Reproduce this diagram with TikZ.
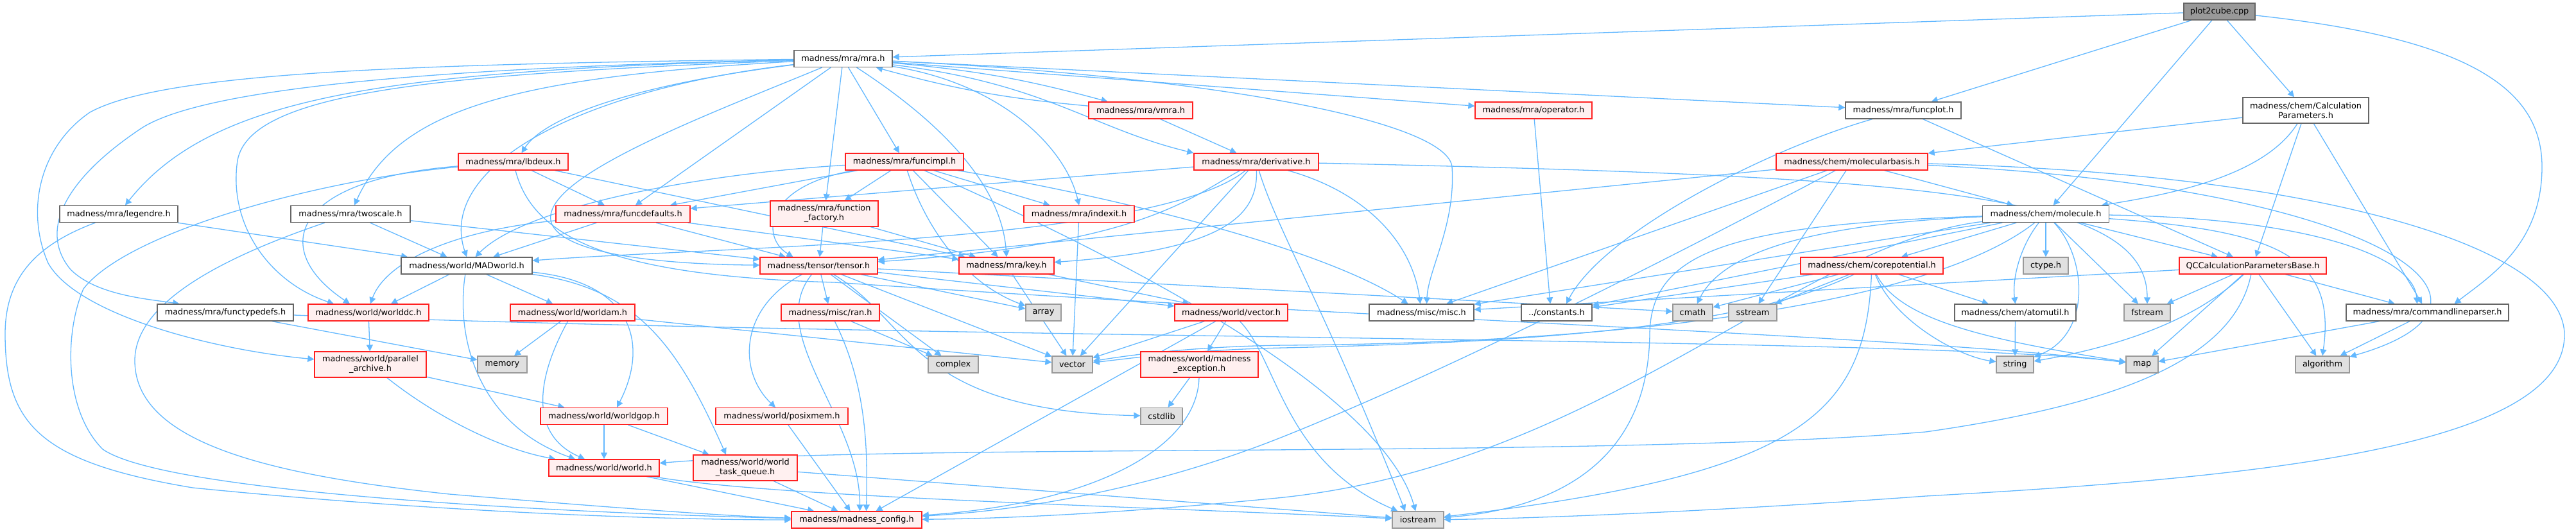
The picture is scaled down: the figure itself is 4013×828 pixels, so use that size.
\documentclass[tikz,border=0pt]{standalone}
\usepackage{fontspec}
\setmainfont{DejaVu Sans}
\usetikzlibrary{arrows.meta}
\definecolor{edgec}{HTML}{63B8FF}
\definecolor{redfill}{HTML}{FFF0F0}
\definecolor{redline}{HTML}{FF2020}
\definecolor{sysfill}{HTML}{E0E0E0}
\definecolor{rootfill}{HTML}{999999}
\definecolor{grA}{HTML}{666666}
\definecolor{grB}{HTML}{999999}
\pgfdeclarelayer{bg}
\pgfsetlayers{bg,main}
\tikzset{
  box/.style={draw, inner sep=0pt, minimum height=26pt, line width=1.3pt,
    font=\fontsize{12.85pt}{15pt}\selectfont, align=center, text=black},
  rnode/.style={box, draw=redline, fill=redfill},
  wnode/.style={box, draw=grA, fill=white},
  snode/.style={box, draw=grB, fill=sysfill},
  rootnode/.style={box, draw=grA, fill=rootfill},
  twoline/.style={minimum height=40pt},
  dep/.style={draw=edgec, line width=1.3pt, -{Triangle[length=10pt,width=10pt]}}
}
\begin{document}
\begin{tikzpicture}[x=1pt,y=-1pt]
\useasboundingbox (0,0) rectangle (4013,828);
% ---- nodes ----
\node[rootnode, minimum width=111pt] (plot) at (3457.5,18) {plot2cube.cpp};
\node[wnode, minimum width=153pt] (mra) at (1313.5,91.5) {madness/mra/mra.h};
\node[wnode, minimum width=180pt] (funcplot) at (2965,172) {madness/mra/funcplot.h};
\node[wnode, twoline, minimum width=196pt] (calc) at (3592,172) {madness/chem/Calculation\\Parameters.h};
\node[rnode, minimum width=162pt] (vmra) at (1777,172) {madness/mra/vmra.h};
\node[rnode, minimum width=182pt] (operator) at (2389,172) {madness/mra/operator.h};
\node[rnode, minimum width=236pt] (molbasis) at (2885,252) {madness/chem/molecularbasis.h};
\node[rnode, minimum width=171pt] (lbdeux) at (799.5,252) {madness/mra/lbdeux.h};
\node[rnode, minimum width=184pt] (funcimpl) at (1409,252) {madness/mra/funcimpl.h};
\node[rnode, minimum width=194pt] (deriv) at (1957,252) {madness/mra/derivative.h};
\node[wnode, minimum width=197pt] (molecule) at (3187,333.5) {madness/chem/molecule.h};
\node[wnode, minimum width=184pt] (legendre) at (185,333.5) {madness/mra/legendre.h};
\node[wnode, minimum width=186pt] (twoscale) at (546,333.5) {madness/mra/twoscale.h};
\node[rnode, minimum width=209pt] (funcdef) at (970.5,333.5) {madness/mra/funcdefaults.h};
\node[rnode, twoline, minimum width=168pt] (ffact) at (1284,333) {madness/mra/function\\\_factory.h};
\node[rnode, minimum width=172pt] (indexit) at (1681,333.5) {madness/mra/indexit.h};
\node[rnode, minimum width=183pt] (tensor) at (1275.5,414) {madness/tensor/tensor.h};
\node[rnode, minimum width=148pt] (key) at (1568,414) {madness/mra/key.h};
\node[rnode, minimum width=222pt] (corepot) at (2916,414) {madness/chem/corepotential.h};
\node[snode, minimum width=70pt] (ctype) at (3187,414) {ctype.h};
\node[rnode, minimum width=229pt] (qcbase) at (3509.5,414) {QCCalculationParametersBase.h};
\node[wnode, minimum width=204pt] (madworld) at (727,414) {madness/world/MADworld.h};
\node[wnode, minimum width=212pt] (functypedefs) at (351,487) {madness/mra/functypedefs.h};
\node[rnode, minimum width=188pt] (worlddc) at (574,487) {madness/world/worlddc.h};
\node[rnode, minimum width=194pt] (worldam) at (892,487) {madness/world/worldam.h};
\node[rnode, minimum width=153pt] (ran) at (1293.5,487) {madness/misc/ran.h};
\node[snode, minimum width=55pt] (array) at (1625.5,487) {array};
\node[rnode, minimum width=176pt] (vectorh) at (1918,487) {madness/world/vector.h};
\node[wnode, minimum width=163pt] (misc) at (2214.5,487) {madness/misc/misc.h};
\node[wnode, minimum width=110pt] (constants) at (2425,487) {../constants.h};
\node[snode, minimum width=62pt] (cmath) at (2637,487) {cmath};
\node[snode, minimum width=75pt] (sstream) at (2730.5,487) {sstream};
\node[wnode, minimum width=189pt] (atomutil) at (3139.5,487) {madness/chem/atomutil.h};
\node[snode, minimum width=72pt] (fstream) at (3345,487) {fstream};
\node[wnode, minimum width=253pt] (cmdparser) at (3781.5,487) {madness/mra/commandlineparser.h};
\node[rnode, twoline, minimum width=174pt] (pa) at (577,568) {madness/world/parallel\\\_archive.h};
\node[snode, minimum width=77pt] (memory) at (782.5,568) {memory};
\node[snode, minimum width=78pt] (complex) at (1485,568) {complex};
\node[snode, minimum width=63pt] (vector) at (1670.5,568) {vector};
\node[rnode, twoline, minimum width=183pt] (exception) at (1868.5,568) {madness/world/madness\\\_exception.h};
\node[snode, minimum width=58pt] (string) at (3139,568) {string};
\node[snode, minimum width=50pt] (map) at (3337,568) {map};
\node[snode, minimum width=84pt] (algorithm) at (3618,568) {algorithm};
\node[rnode, minimum width=198pt] (worldgop) at (941,648.5) {madness/world/worldgop.h};
\node[rnode, minimum width=206pt] (posixmem) at (1218,648.5) {madness/world/posixmem.h};
\node[snode, minimum width=65pt] (cstdlib) at (1809.5,648.5) {cstdlib};
\node[rnode, minimum width=172pt] (world) at (941,729) {madness/world/world.h};
\node[rnode, twoline, minimum width=162pt] (taskq) at (1161,729) {madness/world/world\\\_task\_queue.h};
\node[rnode, minimum width=203pt] (config) at (1334.5,810) {madness/madness\_config.h};
\node[snode, minimum width=80pt] (iostream) at (2209,810) {iostream};
% ---- edges ----
\begin{pgfonlayer}{bg}
% plot2cube
\draw[dep] (plot) -- (mra);
\draw[dep] (plot) -- (funcplot);
\draw[dep] (plot) -- (molecule);
\draw[dep] (plot) -- (calc);
\draw[dep] (plot) .. controls (3850,60) and (3960,140) .. (3960,260) .. controls (3960,380) and (3880,430) .. ([xshift=42pt]cmdparser.north);
% mra
\draw[dep] (mra) .. controls (600,110) and (330,150) .. ([xshift=10pt]legendre.north);
\draw[dep] (mra) .. controls (800,120) and (620,170) .. ([xshift=6pt]twoscale.north);
\draw[dep] (mra) .. controls (900,140) and (680,260) .. (madworld.north);
\draw[dep] (mra) .. controls (1000,130) and (850,180) .. ([xshift=13pt]lbdeux.north);
\draw[dep] (mra) -- (funcdef);
\draw[dep] (mra) -- (ffact);
\draw[dep] (mra) -- (funcimpl);
\draw[dep] (mra) .. controls (1450,180) and (1560,280) .. (key.north);
\draw[dep] (mra) .. controls (1560,130) and (1660,230) .. (indexit.north);
\draw[dep] (mra) to[bend left=5] (vmra);
\draw[dep] (mra) .. controls (1630,130) and (1700,200) .. (deriv.north west);
\draw[dep] (mra) -- (operator);
\draw[dep] (mra) -- (funcplot);
\draw[dep] (mra) .. controls (1900,120) and (2255,190) .. (2262,260) .. controls (2268,350) and (2225,420) .. ([xshift=8pt]misc.north);
\draw[dep] (mra) .. controls (600,100) and (250,115) .. (140,175) .. controls (60,230) and (40,330) .. (75,410) .. controls (120,490) and (330,545) .. (pa);
\draw[dep] (mra) .. controls (700,105) and (320,135) .. (220,200) .. controls (100,280) and (60,360) .. (110,420) .. controls (150,460) and (230,466) .. ([xshift=35pt]functypedefs.north west);
\draw[dep] (mra) .. controls (700,115) and (390,140) .. (370,250) .. controls (355,350) and (420,440) .. ([xshift=-54pt]worlddc.north);
\draw[dep] (mra) .. controls (1100,180) and (830,280) .. (860,350) .. controls (885,400) and (1050,412) .. (tensor);
% vmra, funcplot, calc, operator
\draw[dep] (vmra) to[bend left=5] (mra);
\draw[dep] (vmra) -- (deriv);
\draw[dep] (funcplot) .. controls (2760,230) and (2500,360) .. ([xshift=15pt]constants.north);
\draw[dep] (funcplot) -- (qcbase);
\draw[dep] (calc) -- (molbasis);
\draw[dep] (calc) .. controls (3530,270) and (3400,300) .. (molecule);
\draw[dep] (calc) -- (qcbase);
\draw[dep] (calc) -- (cmdparser);
\draw[dep] (operator) -- ([xshift=-10pt]constants.north);
% molecularbasis
\draw[dep] (molbasis) -- (molecule);
\draw[dep] (molbasis) -- (tensor);
\draw[dep] (molbasis) -- (misc);
\draw[dep] (molbasis) -- (sstream);
\draw[dep] (molbasis) .. controls (2700,350) and (2300,560) .. (2000,680) .. controls (1800,760) and (1600,795) .. (config);
\draw[dep] (molbasis) .. controls (3700,290) and (3960,470) .. (algorithm);
\draw[dep] (molbasis) .. controls (3600,270) and (3990,380) .. (3995,520) .. controls (3998,700) and (3500,745) .. (3000,773) .. controls (2700,795) and (2400,808) .. (iostream);
% lbdeux
\draw[dep] (lbdeux) -- (funcdef);
\draw[dep] (lbdeux) .. controls (450,280) and (420,390) .. ([xshift=-29pt]worlddc.north);
\draw[dep] (lbdeux) -- (key);
\draw[dep] (lbdeux) .. controls (500,280) and (200,360) .. (130,450) .. controls (100,520) and (100,640) .. (160,700) .. controls (260,770) and (900,800) .. (config);
\draw[dep] (lbdeux) .. controls (830,370) and (950,430) .. (1300,440) .. controls (2200,500) and (3000,525) .. (map);
% funcimpl
\draw[dep] (funcimpl) .. controls (1100,270) and (820,320) .. (madworld);
\draw[dep] (funcimpl) -- (funcdef);
\draw[dep] (funcimpl) -- (ffact);
\draw[dep] (funcimpl) .. controls (1190,290) and (1185,370) .. ([xshift=-40pt]tensor.north);
\draw[dep] (funcimpl) -- (key);
\draw[dep] (funcimpl) -- (indexit);
\draw[dep] (funcimpl) .. controls (1440,350) and (1500,440) .. (array);
\draw[dep] (funcimpl) .. controls (1700,300) and (2050,380) .. (misc);
\draw[dep] (funcimpl) .. controls (1700,380) and (2150,600) .. (iostream);
% derivative
\draw[dep] (deriv) -- (funcdef);
\draw[dep] (deriv) .. controls (1850,310) and (1780,380) .. (tensor);
\draw[dep] (deriv) .. controls (1960,340) and (1900,390) .. (key);
\draw[dep] (deriv) .. controls (1800,380) and (1100,385) .. (madworld);
\draw[dep] (deriv) .. controls (2130,300) and (2200,380) .. (misc);
\draw[dep] (deriv) -- (vector);
\draw[dep] (deriv) .. controls (1990,360) and (2060,470) .. ([xshift=-20pt]iostream.north);
\draw[dep] (deriv) .. controls (3000,275) and (3345,300) .. (fstream);
% molecule
\draw[dep] (molecule) -- (corepot);
\draw[dep] (molecule) -- (ctype);
\draw[dep] (molecule) .. controls (3150,380) and (3134,430) .. (atomutil.north);
\draw[dep] (molecule) .. controls (3250,400) and (3260,520) .. (string);
\draw[dep] (molecule) -- (fstream);
\draw[dep] (molecule) -- (qcbase);
\draw[dep] (molecule) .. controls (3600,340) and (3760,400) .. ([xshift=-16pt]cmdparser.north);
\draw[dep] (molecule) .. controls (3550,360) and (3640,400) .. (algorithm.north);
\draw[dep] (molecule) -- (misc);
\draw[dep] (molecule) -- (constants);
\draw[dep] (molecule) .. controls (2800,350) and (2680,400) .. (cmath);
\draw[dep] (molecule) .. controls (3000,480) and (2500,535) .. (2000,538) .. controls (1850,540) and (1750,555) .. (vector);
\draw[dep] (molecule) .. controls (2700,350) and (2572,390) .. (2570,520) .. controls (2568,700) and (2450,790) .. (iostream);
\draw[dep] (molecule) .. controls (2800,380) and (2500,720) .. (2000,775) .. controls (1800,795) and (1600,808) .. (config);
% legendre, twoscale, funcdefaults, function_factory, indexit
\draw[dep] (legendre) -- (madworld);
\draw[dep] (legendre) .. controls (60,380) and (8,430) .. (8,520) .. controls (8,660) and (60,720) .. (300,760) .. controls (700,800) and (1050,810) .. (config);
\draw[dep] (twoscale) -- (madworld);
\draw[dep] (twoscale) -- (tensor);
\draw[dep] (twoscale) .. controls (350,400) and (212,470) .. (210,560) .. controls (208,690) and (420,740) .. (700,770) .. controls (1000,795) and (1150,805) .. (config);
\draw[dep] (funcdef) -- (madworld);
\draw[dep] (funcdef) -- (tensor);
\draw[dep] (funcdef) -- (key);
\draw[dep] (funcdef) .. controls (700,360) and (600,410) .. ([xshift=3pt]worlddc.north);
\draw[dep] (ffact) -- (tensor);
\draw[dep] (ffact) -- (key);
\draw[dep] (indexit) -- (vector);
% tensor
\draw[dep] (tensor) -- (ran);
\draw[dep] (tensor) -- (array);
\draw[dep] (tensor) -- (complex);
\draw[dep] (tensor) -- (vector);
\draw[dep] (tensor) -- (vectorh);
\draw[dep] (tensor) -- (cmath);
\draw[dep] (tensor) .. controls (1420,500) and (1420,640) .. (cstdlib);
\draw[dep] (tensor) .. controls (1150,480) and (1150,580) .. ([xshift=-10pt]posixmem.north);
\draw[dep] (tensor) .. controls (1190,520) and (1340,650) .. ([xshift=5pt]config.north);
% key
\draw[dep] (key) -- (vector);
\draw[dep] (key) -- (vectorh);
% corepotential
\draw[dep] (corepot) -- (atomutil);
\draw[dep] (corepot) -- (cmath);
\draw[dep] (corepot) -- (sstream);
\draw[dep] (corepot) -- (constants);
\draw[dep] (corepot) .. controls (2950,500) and (3050,555) .. (string);
\draw[dep] (corepot) .. controls (2960,500) and (3100,530) .. (map);
\draw[dep] (corepot) .. controls (2700,520) and (2300,535) .. (2000,542) .. controls (1850,545) and (1750,560) .. (vector);
\draw[dep] (corepot) .. controls (2906,650) and (2800,740) .. (iostream);
% QCbase
\draw[dep] (qcbase) -- (fstream);
\draw[dep] (qcbase) .. controls (3420,500) and (3300,540) .. (string);
\draw[dep] (qcbase) -- (map);
\draw[dep] (qcbase) -- (algorithm);
\draw[dep] (qcbase) -- (cmdparser);
\draw[dep] (qcbase) -- (misc);
\draw[dep] (qcbase) .. controls (3480,560) and (3300,630) .. (3000,673) .. controls (2500,715) and (1400,690) .. (world);
% MADworld and world
\draw[dep] (madworld) -- ([xshift=35pt]worlddc.north);
\draw[dep] (madworld) -- (worldam);
\draw[dep] (madworld) .. controls (710,520) and (740,660) .. ([xshift=-45pt]world.north);
\draw[dep] (madworld) .. controls (990,440) and (1010,540) .. ([xshift=20pt]worldgop.north);
\draw[dep] (madworld) .. controls (1000,450) and (1060,550) .. ([xshift=-30pt]taskq.north);
\draw[dep] (functypedefs) -- (memory);
\draw[dep] (functypedefs) .. controls (1500,530) and (3000,525) .. (map);
\draw[dep] (worlddc) -- (pa);
\draw[dep] (worldam) -- (memory);
\draw[dep] (worldam) .. controls (830,600) and (830,680) .. ([xshift=-30pt]world.north);
\draw[dep] (worldam) -- (vector);
\draw[dep] (ran) -- (complex);
\draw[dep] (ran) .. controls (1350,600) and (1352,700) .. ([xshift=15pt]config.north);
\draw[dep] (vectorh) -- (vector);
\draw[dep] (vectorh) -- (exception);
\draw[dep] (vectorh) -- ([xshift=30pt]config.north);
\draw[dep] (vectorh) .. controls (1990,560) and (2000,720) .. (iostream);
\draw[dep] (exception) -- (cstdlib);
\draw[dep] (exception) .. controls (1865,700) and (1700,785) .. (config);
\draw[dep] (pa) -- (worldgop);
\draw[dep] (pa) .. controls (680,650) and (780,700) .. (world);
\draw[dep] (worldgop) -- (world);
\draw[dep] (worldgop) -- (taskq);
\draw[dep] (world) -- (config);
\draw[dep] (world) .. controls (1200,775) and (1800,790) .. (iostream);
\draw[dep] (taskq) -- (config);
\draw[dep] (taskq) -- (iostream);
\draw[dep] (posixmem) -- (config);
\draw[dep] (cmdparser) -- (map);
\draw[dep] (cmdparser) -- (algorithm);
\draw[dep] (atomutil) -- (string);
\end{pgfonlayer}
\end{tikzpicture}
\end{document}
